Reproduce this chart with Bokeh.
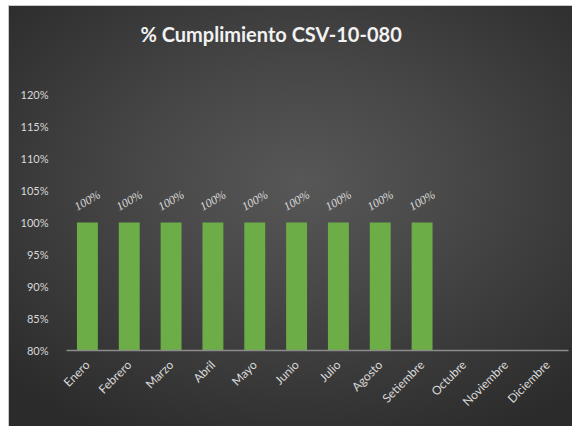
from math import pi
from bokeh.plotting import figure
from bokeh.models import ColumnDataSource, FixedTicker, NumeralTickFormatter, LabelSet, Title
from bokeh.embed import file_html
from bokeh.resources import INLINE

months = ["Enero", "Febrero", "Marzo", "Abril", "Mayo", "Junio", "Julio",
          "Agosto", "Setiembre", "Octubre", "Noviembre", "Diciembre"]
values = [1.0, 1.0, 1.0, 1.0, 1.0, 1.0, 1.0, 1.0, 1.0]
labels = ["100%"] * len(values)
y_ticks = [0.80, 0.85, 0.90, 0.95, 1.00, 1.05, 1.10, 1.15, 1.20]

FONT = "Lato"
TXT = "#d9d9d9"

src = ColumnDataSource(data=dict(
    x=months[:len(values)], top=values, lab=labels,
))

p = figure(width=563, height=420, x_range=months, y_range=(y_ticks[0], y_ticks[-1]),
           output_backend="svg", toolbar_location=None, title=None,
           min_border_left=57, min_border_right=4, min_border_top=88,
           min_border_bottom=76)
p.styles = {
    "background": "radial-gradient(ellipse 72% 68% at 52% 42%, #575757 0%, #474747 40%, #2b2b2b 100%)",
    "box-shadow": "0 0 0 1px #c8c8c8",
    "margin-left": "9px",
    "margin-top": "6px",
}
p.background_fill_alpha = 0
p.border_fill_alpha = 0
p.outline_line_color = None

# spacer between the frame and the title (nearest the frame)
p.add_layout(Title(text=" ", text_font=FONT, text_font_size="20px",
                   standoff=23), "above")
p.add_layout(Title(text="% Cumplimiento CSV-10-080", align="left", offset=74,
                   standoff=0, text_font=FONT, text_font_style="bold",
                   text_font_size="20px", text_color="#f2f2f2"), "above")

p.vbar(x="x", top="top", bottom=y_ticks[0], width=0.5, source=src,
       fill_color="#6dad47", line_color=None)

lbl = LabelSet(x="x", y="top", text="lab", source=src, angle=pi/6,
               text_align="center", text_baseline="middle", y_offset=22,
               text_font=FONT, text_font_style="italic",
               text_font_size="12px", text_color=TXT)
p.add_layout(lbl)

p.xgrid.grid_line_color = None
p.ygrid.grid_line_color = None

p.yaxis.ticker = FixedTicker(ticks=y_ticks)
p.yaxis.formatter = NumeralTickFormatter(format="0%")
p.yaxis.axis_line_color = None
p.yaxis.major_tick_line_color = None
p.yaxis.minor_tick_line_color = None
p.yaxis.major_label_text_color = TXT
p.yaxis.major_label_text_font = FONT
p.yaxis.major_label_text_font_size = "11px"
p.yaxis.major_label_standoff = 12

p.xaxis.axis_line_color = "#8c8c8c"
p.xaxis.axis_line_width = 1.5
p.xaxis.major_tick_line_color = None
p.xaxis.minor_tick_line_color = None
p.xaxis.major_label_orientation = pi / 4
p.xaxis.major_label_text_color = TXT
p.xaxis.major_label_text_font = FONT
p.xaxis.major_label_text_font_size = "12px"
p.xaxis.major_label_standoff = 6

open("out.html", "w").write(file_html(p, INLINE))
